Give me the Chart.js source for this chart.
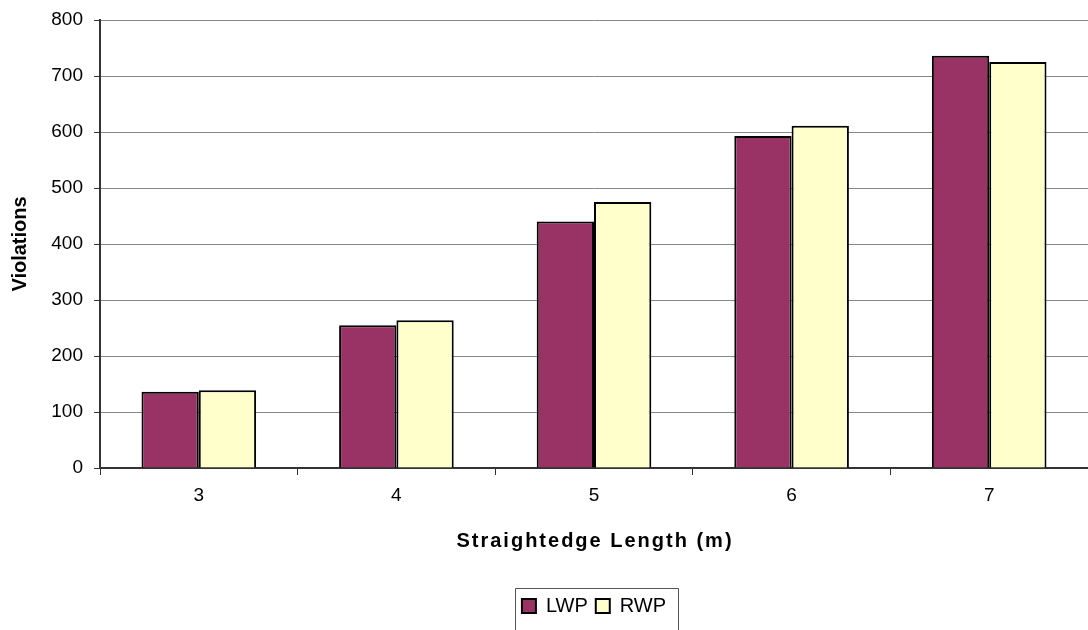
<!DOCTYPE html>
<html>
<head>
<meta charset="utf-8">
<script src="https://cdn.jsdelivr.net/npm/chart.js@4/dist/chart.umd.min.js"></script>
<style>
  html, body { margin: 0; padding: 0; background: #fff; }
  #wrap { width: 1088px; height: 630px; position: relative; }
</style>
</head>
<body>
<div id="wrap"><canvas id="c"></canvas></div>
<script>
// Straightedge lengths (m) and violation counts per wheel path
const lengths = ['3', '4', '5', '6', '7'];
const lwp = [136, 255, 440, 593, 736];
const rwp = [139, 264, 475, 611, 725];

const xTitle = 'Straightedge Length (m)';
const FONT = "'Liberation Sans', Arial, sans-serif";

// Frame drawn around the legend, open at the bottom edge
const legendFrame = {
  id: 'legendFrame',
  afterDraw(chart) {
    const lg = chart.legend;
    if (!lg || !lg.legendHitBoxes || !lg.legendHitBoxes.length) return;
    const boxes = lg.legendHitBoxes;
    const last = boxes[boxes.length - 1];
    const left = Math.round(boxes[0].left - 7) + 0.5;
    const right = Math.round(last.left + last.width + 12) + 0.5;
    const top = Math.round(lg.top) + 0.5;
    const ctx = chart.ctx;
    ctx.save();
    ctx.strokeStyle = '#555';
    ctx.lineWidth = 1;
    ctx.beginPath();
    ctx.moveTo(left, chart.height + 2);
    ctx.lineTo(left, top);
    ctx.lineTo(right, top);
    ctx.lineTo(right, chart.height + 2);
    ctx.stroke();
    ctx.restore();
  }
};

// Category-axis title, letter-spaced, set below the tick labels
const spacedXTitle = {
  id: 'spacedXTitle',
  afterDraw(chart) {
    const ca = chart.chartArea;
    const ctx = chart.ctx;
    ctx.save();
    ctx.font = "bold 20px " + FONT;
    if ('letterSpacing' in ctx) ctx.letterSpacing = '2px';
    ctx.fillStyle = '#000';
    ctx.textAlign = 'center';
    ctx.textBaseline = 'middle';
    ctx.fillText(xTitle, (ca.left + ca.right) / 2 + 1, ca.bottom + 73);
    ctx.restore();
  }
};

new Chart(document.getElementById('c'), {
  type: 'bar',
  data: {
    labels: lengths,
    datasets: [
      { label: 'LWP', data: lwp, backgroundColor: '#993366', borderColor: '#000', borderWidth: 2 },
      { label: 'RWP', data: rwp, backgroundColor: '#FFFFCC', borderColor: '#000', borderWidth: 2 }
    ]
  },
  options: {
    responsive: true,
    maintainAspectRatio: false,
    animation: false,
    layout: { padding: { top: 20, right: 0, left: 0, bottom: 4 } },
    datasets: { bar: { categoryPercentage: 0.58, barPercentage: 1.0 } },
    plugins: {
      legend: {
        position: 'bottom',
        fullSize: false,
        labels: {
          font: { family: FONT, size: 20 },
          color: '#000',
          boxWidth: 14,
          boxHeight: 14,
          padding: 8
        }
      },
      tooltip: { enabled: false }
    },
    scales: {
      x: {
        afterFit(scale) { scale.height = 120; },
        grid: { display: true, drawOnChartArea: false, offset: true, tickLength: 7, color: '#333', lineWidth: 1 },
        border: { color: '#333', width: 2 },
        ticks: { font: { family: FONT, size: 19 }, color: '#000', padding: 9 }
      },
      y: {
        min: 0,
        max: 800,
        afterFit(scale) { scale.width = 100; scale.paddingTop = 0; scale.paddingBottom = 0; },
        grid: { color: '#888', lineWidth: 1, tickLength: 6, tickColor: '#333' },
        border: { color: '#333', width: 2 },
        ticks: { stepSize: 100, font: { family: FONT, size: 19 }, color: '#000', padding: 11 },
        title: {
          display: true,
          text: 'Violations',
          font: { family: FONT, size: 20, weight: 'bold' },
          color: '#000',
          padding: { top: 8, bottom: 0 }
        }
      }
    }
  },
  plugins: [legendFrame, spacedXTitle]
});
</script>
</body>
</html>
